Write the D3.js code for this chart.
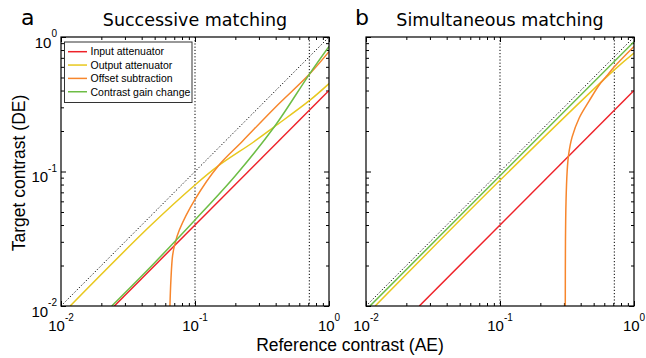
<!DOCTYPE html>
<html lang="en">
  <head>
    <meta charset="utf-8" />
    <title>Successive and simultaneous matching</title>
    <script src="https://cdn.jsdelivr.net/npm/d3@7"></script>
    <style>
      body { margin: 0; background: #fff; }
      .box { fill: none; stroke: #000; stroke-width: 1.2px; }
      .axis .domain { display: none; }
      .axis line { stroke: #000; stroke-width: 1px; }
      .ref { fill: none; stroke: #000; stroke-width: 1px; stroke-dasharray: 1.2, 2; }
      .series { fill: none; stroke-width: 1.5px; }
      .ticklab { font-family: "Liberation Sans", Arial, sans-serif; font-size: 15px; }
      .title { font-family: "DejaVu Sans", sans-serif; font-size: 17.5px; }
      .letter { font-family: "DejaVu Sans", sans-serif; font-size: 22px; }
      .axlab { font-family: "Liberation Sans", Arial, sans-serif; font-size: 17.5px; }
      .legend text { font-family: "Liberation Sans", Arial, sans-serif; font-size: 10.5px; }
    </style>
  </head>
  <body>
    <script>
      // values, [reference contrast, target contrast]
      const letters = ["a", "b"];
      const titles = ["Successive matching", "Simultaneous matching"];
      const seriesNames = ["Input attenuator", "Output attenuator", "Offset subtraction", "Contrast gain change"];
      const colors = ["#ee2229", "#e8c81e", "#f7862c", "#6dbd45"];

      const majorTicks = [0.01, 0.1, 1];
      const majorLabels = [["10", "-2"], ["10", "-1"], ["10", "0"]];
      const minorTicks = [0.02, 0.03, 0.04, 0.05, 0.06, 0.07, 0.08, 0.09, 0.2, 0.3, 0.4, 0.5, 0.6, 0.7, 0.8, 0.9];
      const refX = [0.1, 0.713];
      const identity = [[0.01, 0.01], [1, 1]];

      const inputA = [[0.025, 0.01], [1, 0.4]];
      const outputA = [[0.0117, 0.01], [0.0462, 0.0393], [0.1, 0.0794], [0.149, 0.11], [0.272, 0.165], [0.391, 0.215], [0.713, 0.336], [1, 0.45]];
      const offsetA = [[0.065, 0.01], [0.0661, 0.0156], [0.0681, 0.0239], [0.071, 0.0292], [0.0764, 0.0367], [0.1, 0.062], [0.149, 0.11], [0.226, 0.168], [0.4, 0.302], [0.713, 0.528], [1, 0.778]];
      const gainA = [[0.0239, 0.01], [0.05, 0.021], [0.1, 0.0436], [0.2, 0.093], [0.391, 0.215], [0.713, 0.528], [1, 0.85]];

      const inputB = [[0.025, 0.01], [1, 0.4]];
      const outputB = [[0.0117, 0.01], [0.1, 0.086], [0.713, 0.57], [1, 0.76]];
      const offsetB = [[0.307, 0.01], [0.308, 0.03], [0.311, 0.06], [0.317, 0.1], [0.325, 0.133], [0.345, 0.18], [0.39, 0.25], [0.463, 0.335], [0.55, 0.44], [0.622, 0.51], [0.713, 0.6], [1, 0.85]];
      const gainB = [[0.0107, 0.01], [1, 0.923]];

      const panelSeries = [
        [inputA, outputA, offsetA, gainA],
        [inputB, outputB, offsetB, gainB],
      ];

      let w = 646;
      let h = 358;
      let plotTop = 37;
      let plotBottom = 306;
      let lefts = [61, 366];
      let pw = 268;

      let svg = d3.select("body").append("svg").attr("width", w).attr("height", h);

      panelSeries.forEach((series, p) => {
        let x = d3.scaleLog().domain([0.01, 1]).range([lefts[p], lefts[p] + pw]);
        let y = d3.scaleLog().domain([0.01, 1]).range([plotBottom, plotTop]);
        let g = svg.append("g");

        g.append("clipPath").attr("id", "clip" + p)
          .append("rect")
          .attr("x", lefts[p]).attr("y", plotTop)
          .attr("width", pw).attr("height", plotBottom - plotTop);

        // inward ticks on all four sides
        [[majorTicks, 5], [minorTicks, 3]].forEach(([vals, len]) => {
          g.append("g").attr("class", "axis")
            .attr("transform", `translate(0,${plotBottom})`)
            .call(d3.axisBottom(x).tickValues(vals).tickSize(-len).tickFormat(""));
          g.append("g").attr("class", "axis")
            .attr("transform", `translate(0,${plotTop})`)
            .call(d3.axisTop(x).tickValues(vals).tickSize(-len).tickFormat(""));
          g.append("g").attr("class", "axis")
            .attr("transform", `translate(${lefts[p]},0)`)
            .call(d3.axisLeft(y).tickValues(vals).tickSize(-len).tickFormat(""));
          g.append("g").attr("class", "axis")
            .attr("transform", `translate(${lefts[p] + pw},0)`)
            .call(d3.axisRight(y).tickValues(vals).tickSize(-len).tickFormat(""));
        });

        let plot = g.append("g").attr("clip-path", `url(#clip${p})`);

        let line = d3.line()
          .x((d) => x(d[0]))
          .y((d) => y(d[1]))
          .curve(d3.curveCatmullRom.alpha(0.5));

        refX.forEach((v) => {
          plot.append("line").attr("class", "ref")
            .attr("x1", x(v)).attr("x2", x(v))
            .attr("y1", plotTop).attr("y2", plotBottom);
        });
        plot.append("path").attr("class", "ref").attr("d", line(identity));

        series.forEach((s, i) => {
          plot.append("path").attr("class", "series")
            .attr("stroke", colors[i])
            .attr("d", line(s));
        });

        g.append("rect").attr("class", "box")
          .attr("x", lefts[p]).attr("y", plotTop)
          .attr("width", pw).attr("height", plotBottom - plotTop);

        // x tick labels
        majorTicks.forEach((v, i) => {
          let t = g.append("text").attr("class", "ticklab")
            .attr("x", x(v)).attr("y", 331)
            .attr("text-anchor", "middle");
          t.append("tspan").text(majorLabels[i][0]);
          t.append("tspan").attr("dy", -10.5).attr("font-size", 10).text(majorLabels[i][1]);
        });

        if (p == 0) {
          majorTicks.forEach((v, i) => {
            let t = g.append("text").attr("class", "ticklab")
              .attr("x", lefts[p] - 4).attr("y", y(v) + 10.5)
              .attr("text-anchor", "end");
            t.append("tspan").text(majorLabels[i][0]);
            t.append("tspan").attr("dy", -10.5).attr("font-size", 10).text(majorLabels[i][1]);
          });
        }

        g.append("text").attr("class", "title")
          .attr("x", lefts[p] + pw / 2).attr("y", 25.5)
          .attr("text-anchor", "middle")
          .text(titles[p]);
        g.append("text").attr("class", "letter")
          .attr("x", p == 0 ? 21 : 355).attr("y", 24.5)
          .text(letters[p]);
      });

      // legend in panel a
      let legend = svg.append("g").attr("class", "legend");
      legend.append("rect")
        .attr("x", 64.5).attr("y", 42)
        .attr("width", 127.5).attr("height", 60.5)
        .attr("fill", "#fff").attr("stroke", "#333").attr("stroke-width", 1);
      seriesNames.forEach((name, i) => {
        let yy = 51.7 + i * 13.35;
        legend.append("line")
          .attr("x1", 68).attr("x2", 87).attr("y1", yy).attr("y2", yy)
          .attr("stroke", colors[i]).attr("stroke-width", 1.5);
        legend.append("text").attr("x", 90.5).attr("y", yy).attr("dy", "0.36em").text(name);
      });

      svg.append("text").attr("class", "axlab")
        .attr("transform", "translate(25,173) rotate(-90)")
        .attr("text-anchor", "middle")
        .text("Target contrast (DE)");
      svg.append("text").attr("class", "axlab")
        .attr("x", 350).attr("y", 351)
        .attr("text-anchor", "middle")
        .text("Reference contrast (AE)");
    </script>
  </body>
</html>
